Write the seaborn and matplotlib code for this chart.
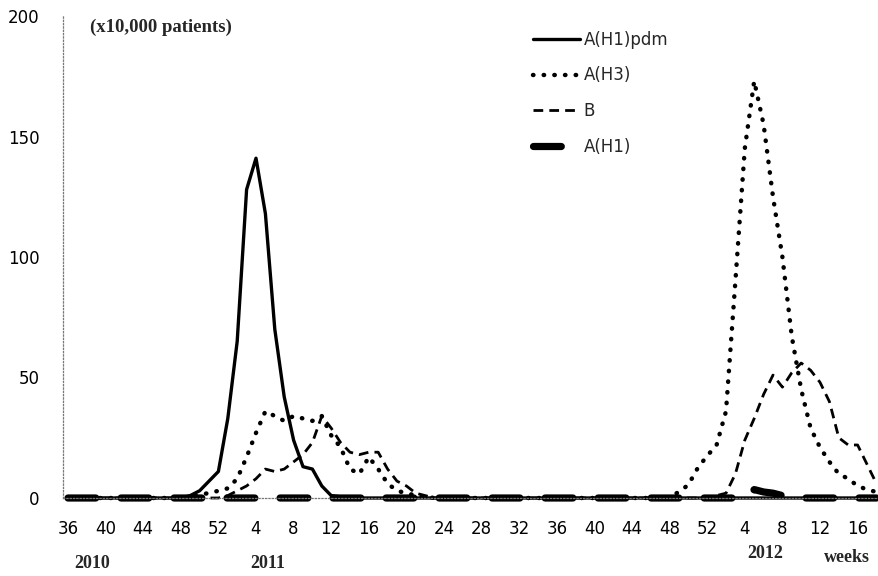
import numpy as np
import pandas as pd
import seaborn as sns
import matplotlib.pyplot as plt

# categories: ISO weeks from 2010 wk36 to 2012 wk18
weeks = list(range(36, 53)) + list(range(1, 53)) + list(range(1, 19))
tick_every = 4
yticks = [0, 50, 100, 150, 200]

h1pdm = [0, 0, 0, 0, 0, 0, 0, 0, 0, 0, 0, 0, 0, 1, 3, 7, 11, 33, 65, 128,
         141, 118, 70, 42, 24, 13, 12, 5, 1, 0.5, 0, 0, 0, 0, 0, 0, 0, 0, 0, 0,
         0, 0, 0, 0, 0, 0, 0, 0, 0, 0, 0, 0, 0, 0, 0, 0, 0, 0, 0, 0,
         0, 0, 0, 0, 0, 0, 0, 0, 0, 0, 0, 0, 0, 0, 0, 0, 0, 0, 0, 0,
         0, 0, 0, 0, 0, 0, 0]
h3 = [0, 0, 0, 0, 0, 0, 0, 0, 0, 0, 0, 0, 0, 0, 1.5, 2, 3, 4, 8, 17,
      27, 36, 34, 32, 34, 33, 32, 34, 26, 21, 12, 10, 17, 12, 6, 3, 2, 1, 0.5, 0,
      0, 0, 0, 0, 0, 0, 0, 0, 0, 0, 0, 0, 0, 0, 0, 0, 0, 0, 0, 0,
      0, 0, 0, 0, 0.5, 2.5, 5.5, 12.5, 17.5, 22, 36, 90, 145, 173, 155, 125, 100, 67, 45, 29,
      21, 15, 10, 8, 5, 3.5, 2.5]
b = [0, 0, 0, 0, 0, 0, 0, 0, 0, 0, 0, 0, 0, 0, 0, 0, 0, 1, 3, 5,
     8, 12, 11, 12, 15, 18, 23, 34, 29, 23, 19, 18, 19, 19, 12, 7, 5, 2, 1, 0,
     0, 0, 0, 0, 0, 0, 0, 0, 0, 0, 0, 0, 0, 0, 0, 0, 0, 0, 0, 0,
     0, 0, 0, 0, 0, 0, 0, 0, 0, 1, 2, 10, 24, 33, 43, 51, 46, 52, 56, 53,
     48, 40, 25, 22, 22, 14, 6]
h1 = [0, 0, 0, 0, 0, 0, 0, 0, 0, 0, 0, 0, 0, 0, 0, 0, 0, 0, 0, 0,
      0, 0, 0, 0, 0, 0, 0, 0, 0, 0, 0, 0, 0, 0, 0, 0, 0, 0, 0, 0,
      0, 0, 0, 0, 0, 0, 0, 0, 0, 0, 0, 0, 0, 0, 0, 0, 0, 0, 0, 0,
      0, 0, 0, 0, 0, 0, 0, 0, 0, 0, 0, 0, 0, 3.5, 2.5, 2, 1, 0, 0, 0,
      0, 0, 0, 0, 0, 0, 0]

sns.set_theme(style='white')
plt.rcParams['font.family'] = ['DejaVu Sans']

W, H = 879, 576
fig = plt.figure(figsize=(W / 100, H / 100), dpi=100)
ax = fig.add_axes([63 / W, 1 - 498 / H, (879 - 63) / W, (498 - 16) / H])

idx = np.arange(len(weeks))
df = pd.DataFrame({'idx': idx, 'A(H1)pdm': h1pdm, 'A(H3)': h3, 'B': b, 'A(H1)': h1})

sns.lineplot(data=df, x='idx', y='A(H1)pdm', color='black', lw=2.4,
             label='A(H1)pdm', ax=ax, clip_on=False)
sns.lineplot(data=df, x='idx', y='A(H3)', color='black', lw=3.2,
             linestyle=(0, (0.1, 2.3)), dash_capstyle='round',
             label='A(H3)', ax=ax, clip_on=False)
sns.lineplot(data=df, x='idx', y='B', color='black', lw=2.0,
             linestyle=(0, (3.5, 2.2)), label='B', ax=ax, clip_on=False)
sns.lineplot(data=df, x='idx', y='A(H1)', color='black', lw=5.2,
             linestyle=(0, (3.85, 3.49)), dash_capstyle='round',
             label='A(H1)', ax=ax, clip_on=False)

ax.set_xlim((63 - 68) / 9.4, (879 - 68) / 9.4)
ax.set_ylim(0, 200)
ax.set_xticks(idx[::tick_every])
ax.set_xticklabels([str(w) for w in weeks[::tick_every]])
ax.set_yticks(yticks)
ax.set_yticklabels([str(v) for v in yticks])
ax.set_xlabel('')
ax.set_ylabel('')

for s in ['top', 'right']:
    ax.spines[s].set_visible(False)
for s in ['left', 'bottom']:
    ax.spines[s].set_linestyle(':')
    ax.spines[s].set_color('#777777')
    ax.spines[s].set_linewidth(0.9)

ax.tick_params(axis='both', which='major', labelsize=12, colors='#777777',
               labelcolor='black', direction='out', width=0.7)
ax.tick_params(axis='y', length=3, pad=14)
ax.tick_params(axis='x', length=4, pad=12)

leg = ax.legend(loc='upper left', bbox_to_anchor=(533 / W, 1 - 31 / H),
                bbox_transform=fig.transFigure, frameon=False, fontsize=12,
                handlelength=2.8, handletextpad=0.25, labelspacing=1.05,
                borderpad=0, borderaxespad=0)

fig.text(90 / W, 1 - 27 / H, '(x10,000 patients)', fontsize=13.5,
         fontweight='bold', family=['Liberation Serif'], ha='left', va='center')
yr = dict(fontsize=13, fontweight='bold', family=['Liberation Serif'],
          ha='center', va='center')
fig.text(92 / W, 1 - 563 / H, '2010', **yr)
fig.text(268 / W, 1 - 564 / H, '2011', **yr)
fig.text(765 / W, 1 - 554 / H, '2012', **yr)
fig.text(847 / W, 1 - 557 / H, 'weeks', **yr)

fig.savefig('out.png', dpi=100)
